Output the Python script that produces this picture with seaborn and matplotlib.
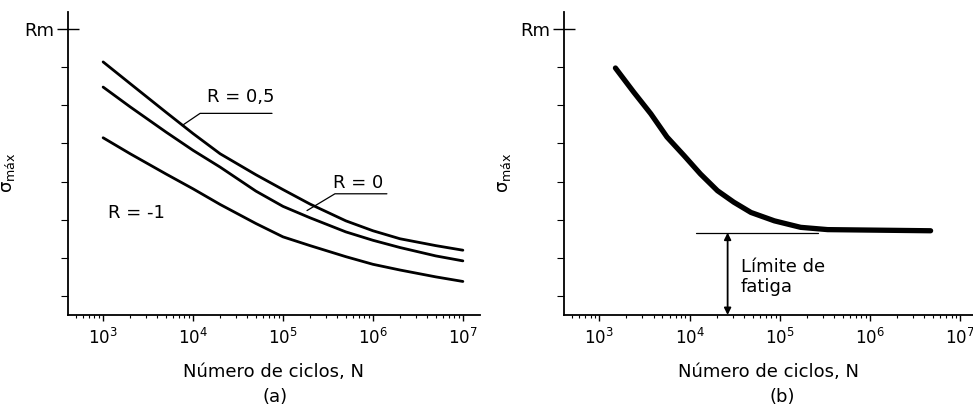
import math
import pandas as pd
import matplotlib.pyplot as plt
import matplotlib.ticker as mticker
import seaborn as sns

# Curvas S-N (a): tensión máxima relativa frente a ciclos
ciclos_a = [1e3, 2e3, 5e3, 1e4, 2e4, 5e4, 1e5, 2e5, 5e5, 1e6, 2e6, 5e6, 1e7]
sigma_r05 = [7.14, 6.57, 5.82, 5.26, 4.73, 4.18, 3.79, 3.41, 2.97, 2.71, 2.50, 2.32, 2.20]
sigma_r0 = [6.48, 5.96, 5.30, 4.82, 4.38, 3.75, 3.35, 3.05, 2.68, 2.46, 2.27, 2.05, 1.92]
sigma_rm1 = [5.15, 4.73, 4.20, 3.81, 3.40, 2.90, 2.55, 2.32, 2.03, 1.83, 1.68, 1.50, 1.38]
etiquetas_r = ['R = 0,5', 'R = 0', 'R = -1']

# Curva (b) con límite de fatiga
ciclos_b = [1510, 2400, 3720, 5620, 8710, 13200, 20400, 30900, 47900,
            87100, 170000, 339000, 4.68e6]
sigma_b = [6.98, 6.35, 5.78, 5.17, 4.68, 4.20, 3.76, 3.46, 3.19,
           2.97, 2.80, 2.74, 2.71]
limite_fatiga = 2.66

rm_valor = 8
ytick_vals = [1, 2, 3, 4, 5, 6, 7]
decadas = [1e3, 1e4, 1e5, 1e6, 1e7]

sns.set_style("ticks")
plt.rcParams['font.family'] = ['DejaVu Sans']
plt.rcParams['mathtext.fontset'] = 'dejavusans'
for k in ['text.color', 'axes.labelcolor', 'xtick.color', 'ytick.color',
          'axes.edgecolor']:
    plt.rcParams[k] = 'black'
FS = 13

n = len(ciclos_a)
df_a = pd.DataFrame({
    'N': ciclos_a * 3,
    'sigma': sigma_r05 + sigma_r0 + sigma_rm1,
    'R': [etiquetas_r[0]] * n + [etiquetas_r[1]] * n + [etiquetas_r[2]] * n,
})
df_b = pd.DataFrame({'N': ciclos_b, 'sigma': sigma_b})

fig = plt.figure(figsize=(9.73, 4.16), dpi=100)
ax1 = fig.add_axes([0.0699, 0.2428, 0.4234, 0.7284])
ax2 = fig.add_axes([0.5797, 0.2428, 0.4203, 0.7284])

sns.lineplot(data=df_a, x='N', y='sigma', hue='R', palette=['black'] * 3,
             linewidth=2.0, legend=False, ax=ax1)
sns.lineplot(data=df_b, x='N', y='sigma', color='black', linewidth=3.8,
             solid_capstyle='round', ax=ax2)

for ax, xmax in [(ax1, 1.55e7), (ax2, 1.38e7)]:
    ax.set_xscale('log')
    ax.set_xlim(407, xmax)
    ax.set_ylim(0.5, 8.45)
    sns.despine(ax=ax)
    ax.spines['left'].set_linewidth(1.3)
    ax.spines['bottom'].set_linewidth(1.3)
    ax.set_xticks(decadas)
    ax.xaxis.set_major_formatter(mticker.FuncFormatter(
        lambda v, p: r'$\mathregular{10^{%d}}$' % round(math.log10(v))))
    ax.xaxis.set_minor_locator(mticker.LogLocator(base=10, subs=range(2, 10)))
    ax.xaxis.set_minor_formatter(mticker.NullFormatter())
    ax.tick_params(axis='x', which='major', direction='out', length=4, width=1,
                   labelsize=12, pad=5)
    ax.tick_params(axis='x', which='minor', direction='out', length=2.5, width=0.8)
    ax.set_yticks(ytick_vals, minor=True)
    ax.set_yticks([rm_valor])
    ax.set_yticklabels(['Rm'])
    ax.tick_params(axis='y', which='major', direction='inout', length=16, width=1,
                   labelsize=FS, pad=2)
    ax.tick_params(axis='y', which='minor', direction='out', length=5, width=0.8)
    ax.set_xlabel('Número de ciclos, N', fontsize=FS, labelpad=11)
    ax.set_ylabel(r'$\mathregular{\sigma_{máx}}$', fontsize=FS)
    ax.yaxis.set_label_coords(-0.125, 0.47)

fig.text(0.283, 0.045, '(a)', ha='center', va='center', fontsize=FS)
fig.text(0.804, 0.045, '(b)', ha='center', va='center', fontsize=FS)

# etiquetas de las curvas (a)
ax1.plot([7550, 11970, 75500], [5.47, 5.79, 5.79], color='black', lw=0.9)
ax1.text(14300, 6.21, etiquetas_r[0], fontsize=FS, va='center')
ax1.plot([185000, 378000, 1.43e6], [3.24, 3.68, 3.68], color='black', lw=0.9)
ax1.text(3.6e5, 3.97, etiquetas_r[1], fontsize=FS, va='center')
ax1.text(1135, 3.18, etiquetas_r[2], fontsize=FS, va='center')

# límite de fatiga (b)
ax2.plot([11660, 264000], [limite_fatiga, limite_fatiga], color='black', lw=0.9)
ax2.annotate('', xy=(26400, limite_fatiga), xytext=(26400, 0.5),
             arrowprops=dict(arrowstyle='<|-|>', color='black', lw=1.3,
                             mutation_scale=10, shrinkA=0, shrinkB=0))
ax2.text(36900, 1.5, 'Límite de\nfatiga', fontsize=FS, va='center',
         linespacing=1.15)

fig.savefig('out.png', dpi=100)
